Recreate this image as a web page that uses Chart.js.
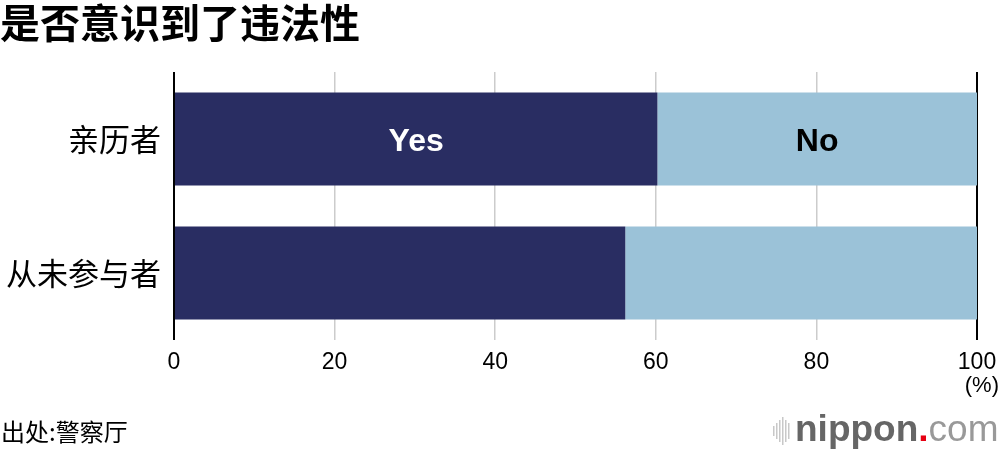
<!DOCTYPE html>
<html>
<head>
<meta charset="utf-8">
<script src="https://cdn.jsdelivr.net/npm/chart.js@4"></script>
<style>
  html, body { margin: 0; padding: 0; background: #fff; }
  #wrap { width: 1000px; height: 452px; position: relative; }
</style>
</head>
<body>
<div id="wrap"><canvas id="chart" width="1000" height="452"></canvas></div>
<script>
// data
const categories = ["亲历者", "从未参与者"];
const yesValues = [60.2, 56.2];
const noValues = [39.8, 43.8];
const seriesNames = ["Yes", "No"];
const tickValues = [0, 20, 40, 60, 80, 100];

const titleText = "是否意识到了违法性";
const sourceText = "出处:警察厅";

const cjk = '"Noto Sans CJK SC", "Noto Sans", sans-serif';
const latin = '"Liberation Sans", Arial, sans-serif';

// draws title, source, logo, (%) and the Yes/No labels on the first bar
const extras = {
    id: "extras",
    afterDraw(chart) {
        const c = chart.ctx;
        c.save();

        c.fillStyle = "#000";
        c.textBaseline = "middle";
        c.textAlign = "left";
        c.font = "bold 40px " + cjk;
        c.fillText(titleText, 0, 23);

        c.font = "24px " + cjk;
        c.fillText(sourceText, 1, 432);

        c.textAlign = "right";
        c.font = "22px " + latin;
        c.fillText("(%)", 999, 386);

        // labels inside the first bar
        c.textAlign = "center";
        c.font = "bold 32px " + latin;
        chart.data.datasets.forEach((ds, i) => {
            const bar = chart.getDatasetMeta(i).data[0];
            const cx = (bar.x + bar.base) / 2;
            c.fillStyle = i === 0 ? "#fff" : "#000";
            c.fillText(seriesNames[i], cx, bar.y + 3);
        });

        // nippon.com logo
        const bx = 773;
        const heights = [10, 16, 22, 28, 22, 16];
        c.fillStyle = "#c8c8c8";
        heights.forEach((h, k) => {
            c.fillRect(bx + k * 3, 431 - h / 2, 1.5, h);
        });
        c.textAlign = "left";
        c.textBaseline = "alphabetic";
        c.font = "bold 37px " + latin;
        c.fillStyle = "#666";
        let x = 795;
        c.fillText("nippon", x, 441);
        x += c.measureText("nippon").width;
        c.fillStyle = "#e60012";
        c.fillText(".", x, 441);
        x += c.measureText(".").width;
        c.font = "37px " + latin;
        c.fillStyle = "#999";
        c.fillText("com", x, 441);

        c.restore();
    }
};

new Chart(document.getElementById("chart"), {
    type: "bar",
    data: {
        labels: categories,
        datasets: [
            { label: seriesNames[0], data: yesValues, backgroundColor: "#292d62" },
            { label: seriesNames[1], data: noValues, backgroundColor: "#9bc2d8" }
        ]
    },
    options: {
        indexAxis: "y",
        responsive: false,
        animation: false,
        layout: { padding: { top: 72, right: 23, left: 0, bottom: 0 } },
        plugins: {
            legend: { display: false },
            tooltip: { enabled: false }
        },
        datasets: {
            bar: { barPercentage: 0.695, categoryPercentage: 1 }
        },
        scales: {
            x: {
                stacked: true,
                min: 0,
                max: 100,
                afterBuildTicks: (axis) => {
                    axis.ticks = tickValues.map(v => ({ value: v }));
                },
                afterFit: (axis) => {
                    axis.height = 112;
                    axis.paddingLeft = 0;
                    axis.paddingRight = 0;
                },
                border: { display: false },
                grid: {
                    drawTicks: false,
                    color: (ctx) => (ctx.tick && (ctx.tick.value === 0 || ctx.tick.value === 100)) ? "#000" : "#cccccc",
                    lineWidth: (ctx) => (ctx.tick && (ctx.tick.value === 0 || ctx.tick.value === 100)) ? 2 : 1.5
                },
                ticks: {
                    padding: 9,
                    color: "#000",
                    font: { family: latin, size: 23 },
                    maxRotation: 0
                }
            },
            y: {
                stacked: true,
                afterFit: (axis) => { axis.width = 174; },
                border: { display: false },
                grid: { display: false, drawTicks: false },
                ticks: {
                    padding: 13,
                    color: "#000",
                    font: { family: cjk, size: 31 }
                }
            }
        }
    },
    plugins: [extras]
});
</script>
</body>
</html>
